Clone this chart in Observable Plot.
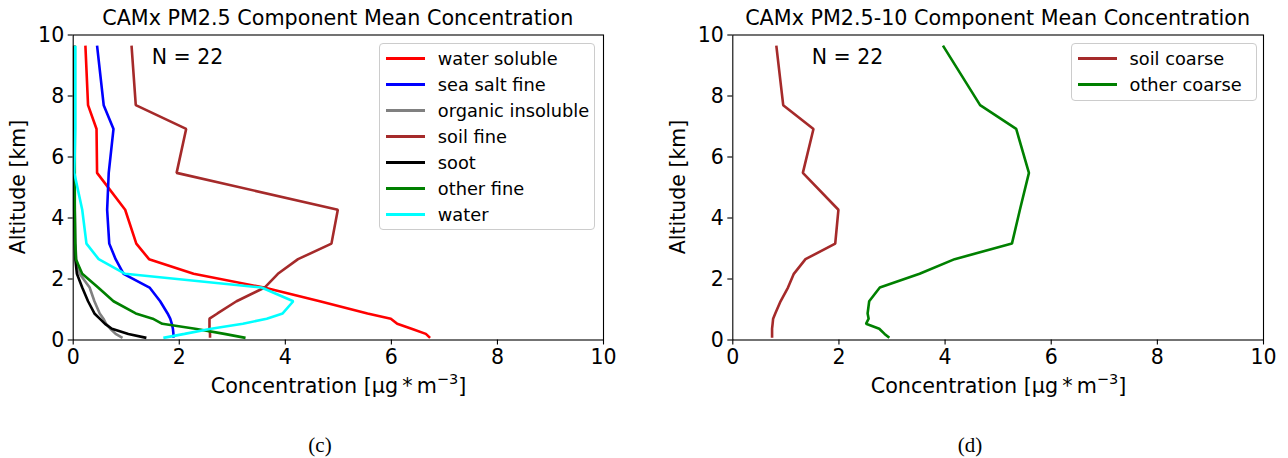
<!DOCTYPE html>
<html>
<head>
<meta charset="utf-8">
<script src="https://cdn.jsdelivr.net/npm/d3@7"></script>
<script src="https://cdn.jsdelivr.net/npm/@observablehq/plot@0.6"></script>
<style>
  html, body { margin: 0; padding: 0; background: white; }
  #root { position: relative; width: 1288px; height: 458px; overflow: hidden; font-family: "DejaVu Sans", sans-serif; color: black; }
  .panel { position: absolute; top: 0; }
  .txt { position: absolute; white-space: nowrap; line-height: 1; }
  .center { transform: translate(-50%, -50%); }
  .legend { position: absolute; border: 1px solid #cccccc; border-radius: 4px; background: rgba(255,255,255,0.8); box-sizing: border-box; }
  .legend .row { position: absolute; left: 0; height: 20px; display: flex; align-items: center; font-size: 17.8px; white-space: nowrap; }
  .legend .sw { width: 39px; height: 2.8px; margin-left: 5.5px; margin-right: 13px; }
  .cap { font-family: "Liberation Serif", serif; font-size: 21px; }
</style>
</head>
<body>
<div id="root"></div>
<script>
// Altitude levels [km] (shared by all profiles), top to bottom
const levels = [9.65, 7.7, 6.92, 5.48, 4.27, 3.16, 2.65, 2.17, 1.72, 1.27, 0.87, 0.7, 0.53, 0.37, 0.2, 0.07];

// Panel (c): PM2.5 components [µg m-3]
const fineNames = ["water soluble", "sea salt fine", "organic insoluble", "soil fine", "soot", "other fine", "water"];
const waterSoluble     = [0.23, 0.28, 0.44, 0.45, 0.98, 1.19, 1.43, 2.27, 3.60, 4.65, 5.55, 5.99, 6.11, 6.38, 6.65, 6.73];
const seaSaltFine      = [0.45, 0.575, 0.76, 0.67, 0.64, 0.68, 0.80, 0.95, 1.44, 1.64, 1.78, 1.83, 1.86, 1.88, 1.89, 1.89];
const organicInsoluble = [0.02, 0.02, 0.02, 0.02, 0.03, 0.04, 0.06, 0.12, 0.31, 0.40, 0.50, 0.57, 0.62, 0.70, 0.80, 0.93];
const soilFine         = [1.10, 1.18, 2.13, 1.95, 4.99, 4.87, 4.24, 3.86, 3.61, 3.08, 2.72, 2.57, 2.57, 2.57, 2.58, 2.58];
const soot             = [0.02, 0.02, 0.02, 0.02, 0.02, 0.03, 0.04, 0.07, 0.17, 0.28, 0.40, 0.50, 0.60, 0.73, 1.04, 1.38];
const otherFine        = [0.03, 0.03, 0.03, 0.03, 0.03, 0.04, 0.05, 0.17, 0.47, 0.76, 1.18, 1.50, 1.68, 2.30, 2.85, 3.25];
const water            = [0.04, 0.04, 0.04, 0.02, 0.17, 0.25, 0.48, 0.98, 3.55, 4.15, 3.95, 3.65, 3.20, 2.60, 2.10, 1.70];
const fineColors = ["red", "blue", "gray", "brown", "black", "green", "cyan"];

// Panel (d): PM2.5-10 components [µg m-3]
const coarseNames = ["soil coarse", "other coarse"];
const soilCoarse  = [0.82, 0.95, 1.52, 1.32, 1.99, 1.93, 1.37, 1.15, 1.04, 0.90, 0.80, 0.76, 0.75, 0.74, 0.74, 0.74];
const otherCoarse = [3.96, 4.66, 5.34, 5.58, 5.41, 5.26, 4.18, 3.52, 2.77, 2.57, 2.54, 2.56, 2.51, 2.76, 2.86, 2.95];
const coarseColors = ["brown", "green"];

const tickValues = [0, 2, 4, 6, 8, 10];
const titles = ["CAMx PM2.5 Component Mean Concentration", "CAMx PM2.5-10 Component Mean Concentration"];
const captions = ["(c)", "(d)"];
const nLabel = "N = 22";

const root = document.getElementById("root");

function panel(names, valueArrays, colors, left, marginLeft, marginRight) {
  const W = 644, H = 458;
  const marks = names.map((name, k) => {
    const rows = valueArrays[k].map((v, i) => ({conc: v, alt: levels[i]}));
    return Plot.line(rows, {x: "conc", y: "alt", stroke: colors[k], strokeWidth: 2.6, strokeLinejoin: "miter", strokeLinecap: "butt"});
  });
  const svg = Plot.plot({
    width: W, height: H,
    marginLeft, marginRight, marginTop: 34.5, marginBottom: 118.5,
    x: {domain: [0, 10], label: null},
    y: {domain: [0, 10], label: null},
    style: {fontFamily: "DejaVu Sans", fontSize: "20.5px", color: "black", background: "transparent", overflow: "visible"},
    marks: [
      ...marks,
      Plot.frame({stroke: "black", strokeWidth: 1.1}),
      Plot.axisX({ticks: tickValues, tickSize: 5, tickPadding: 4, label: null, fontSize: 20.5, strokeWidth: 1.1}),
      Plot.axisY({ticks: tickValues, tickSize: 5, tickPadding: 4, label: null, fontSize: 20.5, strokeWidth: 1.1})
    ]
  });
  svg.classList.add("panel");
  svg.style.left = left + "px";
  root.appendChild(svg);
}

function addText(html, x, y, style, cls) {
  const d = document.createElement("div");
  d.className = "txt center " + (cls || "");
  d.innerHTML = html;
  d.style.left = x + "px";
  d.style.top = y + "px";
  Object.assign(d.style, style || {});
  root.appendChild(d);
  return d;
}

function legend(names, colors, x, y, w, h) {
  const box = document.createElement("div");
  box.className = "legend";
  box.style.left = x + "px"; box.style.top = y + "px";
  box.style.width = w + "px"; box.style.height = h + "px";
  names.forEach((n, i) => {
    const r = document.createElement("div");
    r.className = "row";
    r.style.top = (4.5 + i * 25.9) + "px";
    const sw = document.createElement("div");
    sw.className = "sw";
    sw.style.background = colors[i];
    const t = document.createElement("span");
    t.textContent = n;
    r.appendChild(sw); r.appendChild(t);
    box.appendChild(r);
  });
  root.appendChild(box);
}

// left panel: frame x 72.7 .. 603 ; right panel: frame x 732.3 .. 1263
panel(fineNames, [waterSoluble, seaSaltFine, organicInsoluble, soilFine, soot, otherFine, water], fineColors, 0, 72.7, 41);
panel(coarseNames, [soilCoarse, otherCoarse], coarseColors, 644, 88.3, 25);

addText(titles[0], 337.8, 18, {fontSize: "20.7px"});
addText(titles[1], 997.6, 18, {fontSize: "20.7px"});
addText(nLabel, 187.5, 57, {fontSize: "20.5px"});
addText(nLabel, 847.5, 57, {fontSize: "20.5px"});
const xl = 'Concentration [\u00b5g\u2009*\u2009m<sup style="font-size:0.7em;vertical-align:0.62em;line-height:0">\u22123</sup>]';
addText(xl, 338.5, 386, {fontSize: "20.7px"});
addText(xl, 998.5, 386, {fontSize: "20.7px"});
addText("Altitude [km]", 18, 187, {fontSize: "20.5px", transform: "translate(-50%,-50%) rotate(-90deg)"});
addText("Altitude [km]", 678, 187, {fontSize: "20.5px", transform: "translate(-50%,-50%) rotate(-90deg)"});
addText(captions[0], 320, 445, {}, "cap");
addText(captions[1], 970, 445, {}, "cap");

legend(fineNames, fineColors, 379.3, 43.3, 216, 187);
legend(coarseNames, coarseColors, 1071, 43.3, 186, 58);
</script>
</body>
</html>
